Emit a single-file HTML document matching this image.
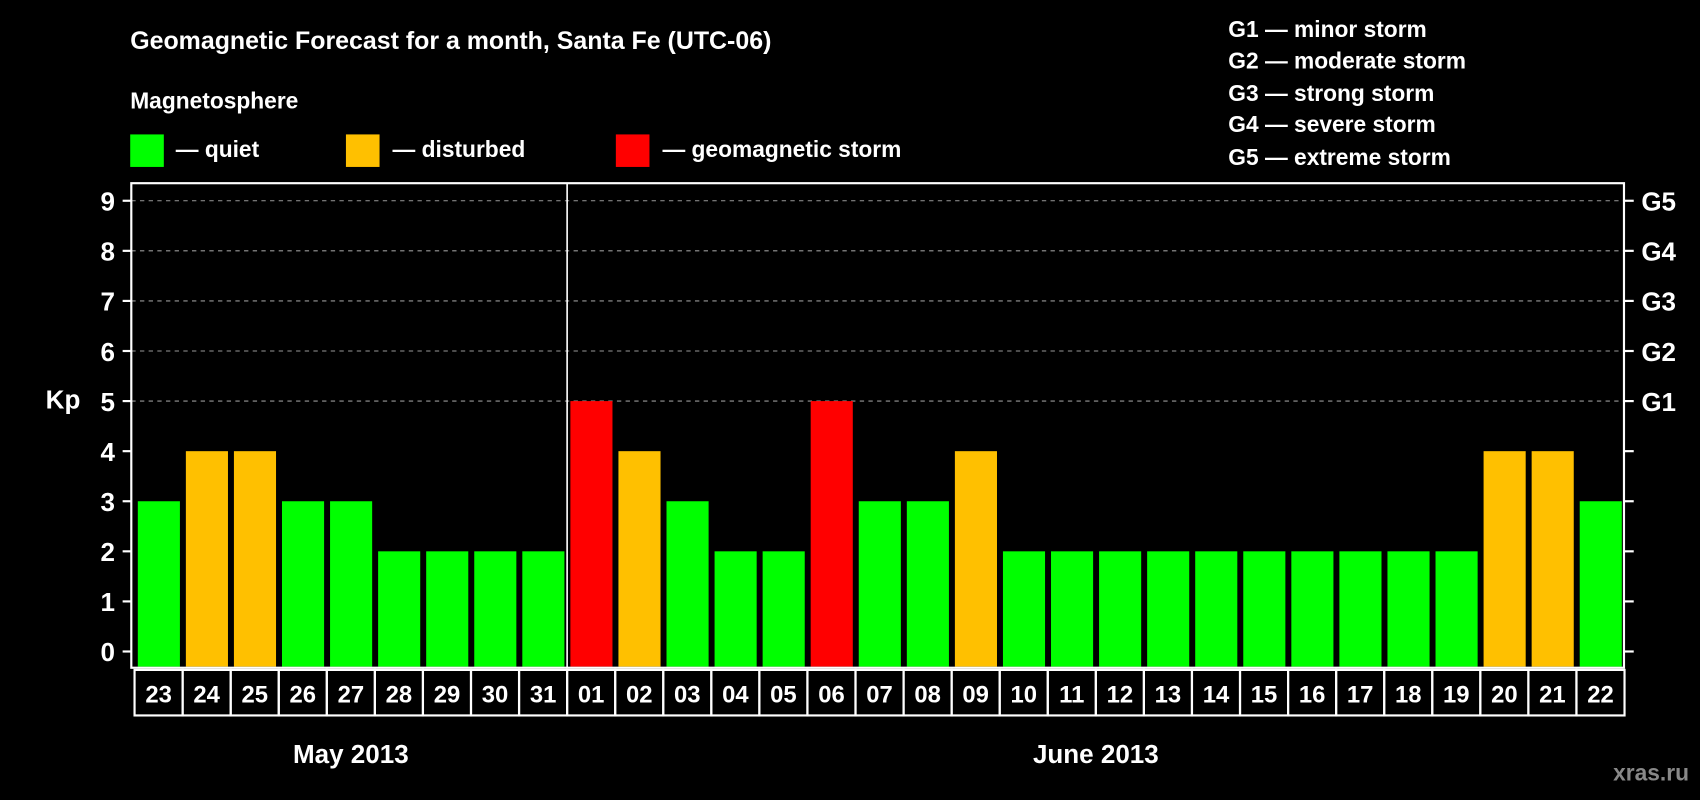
<!DOCTYPE html>
<html><head><meta charset="utf-8"><style>
html,body{margin:0;padding:0;background:#000;}
svg{display:block;font-family:"Liberation Sans",Arial,sans-serif;font-weight:bold;}
</style></head><body>
<svg id="chart" width="1700" height="800" viewBox="0 0 1568 738" xmlns="http://www.w3.org/2000/svg">
<rect x="0" y="0" width="1568" height="738" fill="#000"/>
<text x="120" y="45" fill="#fff" font-size="23">Geomagnetic Forecast for a month, Santa Fe (UTC-06)</text>
<text x="120" y="100" fill="#fff" font-size="21">Magnetosphere</text>
<g><rect x="120" y="124" width="31" height="30" fill="#00ff00"/><text x="162" y="145" fill="#fff" font-size="21">— quiet</text></g>
<g><rect x="319" y="124" width="31" height="30" fill="#ffc000"/><text x="362" y="145" fill="#fff" font-size="21">— disturbed</text></g>
<g><rect x="568" y="124" width="31" height="30" fill="#ff0000"/><text x="611" y="145" fill="#fff" font-size="21">— geomagnetic storm</text></g>
<g fill="#fff" font-size="21">
<text x="1133" y="34">G1 — minor storm</text>
<text x="1133" y="63">G2 — moderate storm</text>
<text x="1133" y="93">G3 — strong storm</text>
<text x="1133" y="122">G4 — severe storm</text>
<text x="1133" y="152">G5 — extreme storm</text>
</g>
<text x="58" y="377" fill="#fff" font-size="24" text-anchor="middle">Kp</text>
<text x="1558" y="720" fill="#888" font-size="21" text-anchor="end">xras.ru</text>
<g id="grid"></g><g id="bars"></g><g id="axes"></g><g id="labels"></g>
</svg>
<script>
const days=["23","24","25","26","27","28","29","30","31","01","02","03","04","05","06","07","08","09","10","11","12","13","14","15","16","17","18","19","20","21","22"];
const kp=[3,4,4,3,3,2,2,2,2,5,4,3,2,2,5,3,3,4,2,2,2,2,2,2,2,2,2,2,4,4,3];
const yTicks=[0,1,2,3,4,5,6,7,8,9];
const gLabels=["","","","","","G1","G2","G3","G4","G5"];
const months=["May 2013","June 2013"];
const monthStarts=[0,9];
const NS="http://www.w3.org/2000/svg";
const X0=124,X1=1498.5,TOP=169,BOT=616;
const slot=(X1-X0)/days.length;
function y(v){return 601-46.2*v;}
function x(i){return X0+i*slot;}
function color(v){return v>=5?"#ff0000":(v>=4?"#ffc000":"#00ff00");}
function mk(tag,attrs,parent){const e=document.createElementNS(NS,tag);for(const k in attrs)e.setAttribute(k,attrs[k]);parent.appendChild(e);return e;}
const grid=document.getElementById("grid"),bars=document.getElementById("bars"),axes=document.getElementById("axes"),labels=document.getElementById("labels");
yTicks.forEach((t,i)=>{
 if(t>=5){const l=mk("line",{x1:121,x2:1498,y1:y(t),y2:y(t),stroke:"#999","stroke-width":1,"stroke-dasharray":"4,4"},grid);
 
 }
 mk("line",{x1:113,x2:121,y1:y(t),y2:y(t),stroke:"#fff","stroke-width":2},axes);
 mk("line",{x1:1498,x2:1507,y1:y(t),y2:y(t),stroke:"#fff","stroke-width":2},axes);
 const tl=mk("text",{x:106,y:y(t)+9,fill:"#fff","font-size":24,"text-anchor":"end"},labels);tl.textContent=t;
 
 
 if(gLabels[i]){const g=mk("text",{x:1514,y:y(t)+9,fill:"#fff","font-size":24},labels);g.textContent=gLabels[i];
 
 }
});
kp.forEach((v,i)=>{
 const r=mk("rect",{x:x(i)+3,y:y(v),width:slot-5.5,height:y(0)+15-y(v)-1,fill:color(v)},bars);
 
 
 const b=mk("rect",{x:x(i),y:BOT+2,width:slot,height:42,fill:"none",stroke:"#fff","stroke-width":2},labels);
 
 
 const t=mk("text",{x:x(i)+slot/2,y:BOT+32,fill:"#fff","font-size":22,"text-anchor":"middle"},labels);t.textContent=days[i];
 
 
});
mk("rect",{x:121,y:TOP,width:1498-121,height:BOT-TOP,fill:"none",stroke:"#fff","stroke-width":2},axes);
mk("line",{x1:x(monthStarts[1]),x2:x(monthStarts[1]),y1:TOP,y2:BOT,stroke:"#fff","stroke-width":1.5},axes);
months.forEach((m,i)=>{
 const s=monthStarts[i],e=i+1<monthStarts.length?monthStarts[i+1]:days.length;
 const t=mk("text",{x:(x(s)+x(e))/2,y:704,fill:"#fff","font-size":24,"text-anchor":"middle"},labels);t.textContent=m;
 
 
});
</script>
</body></html>
